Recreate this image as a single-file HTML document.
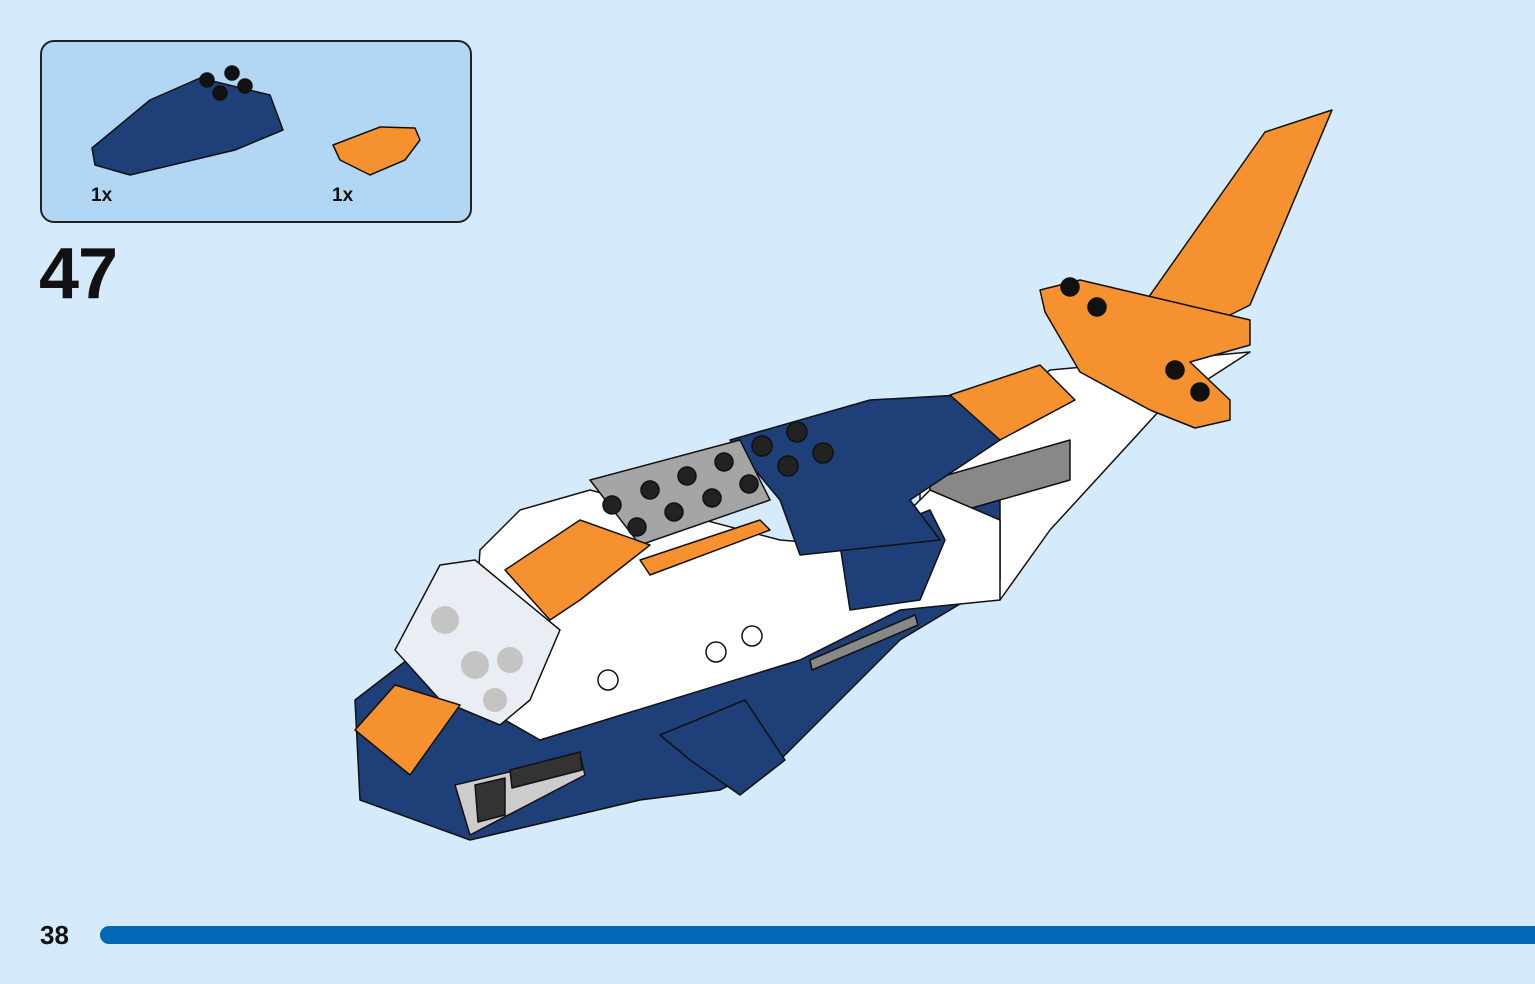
<!DOCTYPE html>
<html><head><style>
html,body{margin:0;padding:0;width:1535px;height:984px;background:#d5ebfb;overflow:hidden;font-family:"Liberation Sans",sans-serif}
.box{position:absolute;left:40px;top:40px;width:428px;height:179px;background:#b2d7f4;border:2px solid #222;border-radius:14px}
.n{position:absolute;font-weight:bold;color:#111}
.bar{position:absolute;left:100px;top:926px;width:1450px;height:18px;background:#0068b4;border-radius:9px}
</style></head><body>
<div class="box"></div>
<div class="n" style="left:91px;top:185px;font-size:19px">1x</div>
<div class="n" style="left:332px;top:185px;font-size:19px">1x</div>
<div class="n" style="left:39px;top:233px;font-size:72px;letter-spacing:-1px">47</div>
<div class="n" style="left:40px;top:920px;font-size:26px">38</div>
<div class="bar"></div>
<svg width="1535" height="984" style="position:absolute;left:0;top:0" stroke="#111" stroke-width="1.5" stroke-linejoin="round">
<!-- parts -->
<polygon points="92,148 150,100 200,78 270,95 283,130 235,150 130,175 95,165" fill="#1f3f78"/>
<g fill="#111"><circle cx="207" cy="80" r="7"/><circle cx="232" cy="73" r="7"/><circle cx="220" cy="93" r="7"/><circle cx="245" cy="86" r="7"/></g>
<polygon points="333,145 380,127 415,128 420,140 405,160 370,175 340,160" fill="#f5912e"/>
<!-- tail fin -->
<polygon points="1115,345 1265,132 1332,110 1250,305 1200,330" fill="#f5912e"/>
<!-- rear fuselage -->
<polygon points="920,470 1050,370 1250,352 1160,410 1050,530 1000,600 920,600" fill="#fff"/>
<polygon points="930,480 1070,440 1070,480 930,520" fill="#888"/>
<!-- stabilizer -->
<polygon points="1040,290 1080,280 1250,320 1250,345 1190,362 1230,400 1230,420 1195,428 1150,410 1080,372 1045,312" fill="#f5912e"/>
<g fill="#111"><circle cx="1070" cy="287" r="9"/><circle cx="1097" cy="307" r="9"/><circle cx="1175" cy="370" r="9"/><circle cx="1200" cy="392" r="9"/></g>
<!-- lower hull -->
<polygon points="355,700 360,800 470,840 640,800 720,790 780,760 900,640 1000,580 1000,500 930,520 560,700 420,650" fill="#1f3f78"/>
<!-- mid fuselage -->
<polygon points="480,550 520,510 590,490 780,540 840,545 900,520 930,490 1000,520 1000,600 900,610 800,660 540,740 470,700" fill="#fff"/>
<polygon points="840,545 930,510 945,540 920,600 850,610" fill="#1f3f78"/>
<!-- rear canopy navy -->
<polygon points="730,440 870,400 960,395 1000,420 1000,440 910,500 940,540 800,555 780,500" fill="#1f3f78"/>
<polygon points="950,395 1040,365 1075,400 1000,440" fill="#f5912e"/>
<!-- gray plate -->
<polygon points="590,480 740,440 770,500 640,545" fill="#a5a5a5"/>
<g fill="#222"><circle cx="612" cy="505" r="9"/><circle cx="637" cy="527" r="9"/><circle cx="650" cy="490" r="9"/><circle cx="674" cy="512" r="9"/><circle cx="687" cy="476" r="9"/><circle cx="712" cy="498" r="9"/><circle cx="724" cy="462" r="9"/><circle cx="749" cy="484" r="9"/>
<circle cx="762" cy="446" r="10"/><circle cx="797" cy="432" r="10"/><circle cx="788" cy="466" r="10"/><circle cx="823" cy="453" r="10"/></g>
<!-- orange top front -->
<polygon points="505,570 580,520 650,545 580,600 550,620" fill="#f5912e"/>
<polygon points="640,560 760,520 770,530 650,575" fill="#f5912e"/>
<!-- windshield -->
<polygon points="395,650 440,565 475,560 560,630 530,700 500,725 440,700" fill="#e8eef4"/>
<g fill="#c4c4c4" stroke="none"><circle cx="445" cy="620" r="14"/><circle cx="475" cy="665" r="14"/><circle cx="510" cy="660" r="13"/><circle cx="495" cy="700" r="12"/></g>
<!-- portholes -->
<g fill="#fff"><circle cx="608" cy="680" r="10"/><circle cx="716" cy="652" r="10"/><circle cx="752" cy="636" r="10"/></g>
<!-- nose -->
<polygon points="355,730 395,685 460,705 410,775" fill="#f5912e"/>
<!-- ventral fin -->
<polygon points="660,735 745,700 785,760 740,795 690,760" fill="#1f3f78"/>
<!-- bottom details -->
<polygon points="455,785 580,755 585,775 470,835" fill="#ccc"/>
<polygon points="475,785 505,778 505,815 478,822" fill="#333"/>
<polygon points="510,770 580,752 582,770 512,788" fill="#333"/>
<polygon points="810,660 915,615 918,625 812,670" fill="#888"/>
</svg>
</body></html>
